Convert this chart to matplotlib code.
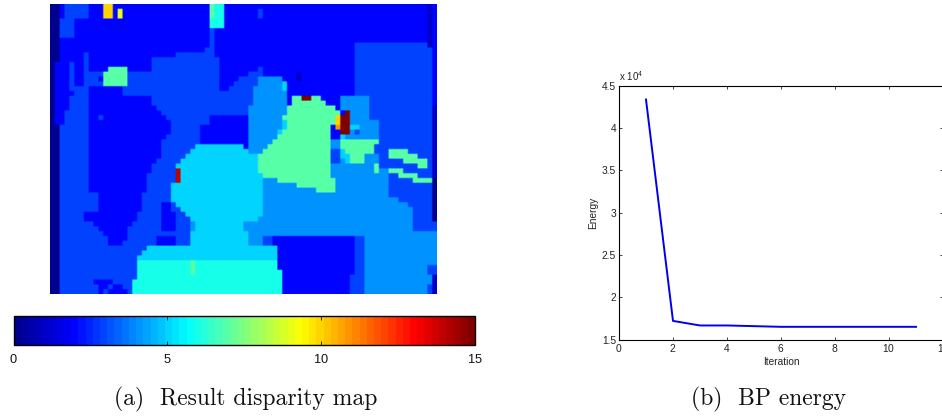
import numpy as np
import matplotlib
matplotlib.use('Agg')
import matplotlib.pyplot as plt
from matplotlib.cm import ScalarMappable
from matplotlib.colors import LinearSegmentedColormap, Normalize

plt.rcParams['font.family'] = ['Liberation Sans', 'DejaVu Sans']
plt.rcParams['mathtext.default'] = 'regular'
plt.rcParams['axes.formatter.use_mathtext'] = True

# disparity map, one line per row: "start column:disparity (hex)"
disparity_runs = [
    "0:0 2:2 3:3 8:2 11:a 13:2 33:7 34:6 36:2 78:1 79:2",
    "0:0 2:2 3:3 8:2 11:a 13:2 14:9 15:2 33:7 34:6 36:2 43:3 44:2 78:1 79:2",
    "0:0 2:2 3:3 8:2 11:a 13:2 14:9 15:2 33:7 34:6 36:2 43:3 44:2 78:1 79:2",
    "0:0 2:3 5:2 33:6 36:2 78:1 79:2",
    "0:0 2:3 5:2 33:6 36:2 78:1 79:2",
    "0:0 2:3 5:2 33:3 34:2 78:1 79:2",
    "0:0 2:3 5:2 33:3 34:2 78:1 79:2",
    "0:0 2:2 33:3 34:2 78:1 79:2",
    "0:0 2:2 33:3 34:2 63:3 78:1 79:2",
    "0:0 2:2 32:3 34:2 63:3 79:2",
    "0:0 2:2 7:3 8:2 26:3 34:2 63:3 79:2",
    "0:0 2:2 7:3 8:2 21:3 35:2 63:3 79:2",
    "0:0 1:2 4:3 5:2 7:3 8:2 21:3 35:2 63:3 79:2",
    "0:0 1:2 4:3 5:2 7:3 8:2 12:7 16:2 21:3 35:2 43:3 44:2 63:3 79:2",
    "0:0 1:2 4:3 5:2 7:3 11:7 16:3 35:2 41:3 44:2 51:1 52:2 63:3 79:2",
    "0:0 1:2 4:3 5:2 7:3 10:2 11:7 16:3 35:2 39:3 43:4 48:2 51:1 52:2 63:3 79:2",
    "0:0 1:2 4:3 5:2 7:3 11:7 16:3 35:2 38:3 43:4 48:5 49:2 63:3 79:2",
    "0:0 1:2 4:3 8:2 15:3 35:2 37:3 42:4 48:5 49:2 63:3 79:2",
    "0:0 1:2 5:3 8:2 15:3 42:4 49:2 63:3 79:2",
    "0:0 1:2 4:3 8:2 21:3 42:4 49:2 50:7 52:f 54:7 56:2 60:4 66:3 79:2",
    "0:0 1:2 4:3 8:2 21:3 42:4 49:2 50:7 57:2 60:4 66:3 79:2",
    "0:0 1:2 4:3 8:2 22:3 41:4 49:7 59:2 60:4 66:3 79:1",
    "0:0 1:2 3:3 8:2 23:3 41:4 49:7 60:2 61:f 62:4 66:3 79:1",
    "0:0 1:2 3:3 8:2 10:3 11:2 24:3 33:2 41:4 48:7 59:a 60:f 62:4 66:3 79:1",
    "0:0 1:2 3:3 8:2 25:3 33:2 41:4 48:5 49:7 59:a 60:f 62:4 68:3 79:1",
    "0:0 2:3 8:2 25:3 31:2 41:4 48:5 49:7 58:2 59:b 60:f 62:5 64:4 68:3 79:1",
    "0:0 2:3 8:2 25:3 31:2 41:4 47:5 48:7 58:2 60:f 62:4 63:3 64:4 68:3 79:1",
    "0:0 2:3 8:2 24:3 31:2 41:4 47:7 58:2 60:5 61:4 68:3 79:1",
    "0:0 2:3 8:2 23:3 31:2 41:4 46:7 58:4 60:7 68:3 79:1",
    "0:0 2:3 8:2 23:3 30:5 40:2 41:4 45:7 58:4 60:7 67:3 79:1",
    "0:0 2:3 8:2 23:3 29:5 41:4 44:7 58:3 60:5 61:7 67:3 70:7 74:3 79:1",
    "0:0 2:3 8:2 23:3 28:5 43:7 58:3 60:5 62:7 65:4 68:3 70:7 76:3 79:1",
    "0:0 2:3 8:2 22:3 27:5 43:7 58:3 60:4 61:5 62:7 65:4 68:3 73:7 78:3 79:1",
    "0:0 2:3 8:2 21:3 26:5 43:7 58:4 67:7 68:3 76:7 78:3 79:1",
    "0:0 2:3 8:2 21:3 26:e 27:5 43:7 58:4 67:7 68:4 70:7 73:3 79:1",
    "0:0 2:3 8:2 20:3 26:e 27:5 44:7 58:4 70:3 72:7 76:3 79:1",
    "0:0 2:3 8:2 20:3 26:e 27:5 44:4 47:7 59:4 70:3 75:7 79:0",
    "0:0 2:3 8:2 20:3 25:5 44:4 51:7 59:4 70:3 79:0",
    "0:0 2:3 8:2 20:3 25:5 44:4 55:7 59:4 70:3 79:0",
    "0:0 2:3 10:2 19:3 25:5 44:4 70:3 79:0",
    "0:0 2:3 10:2 19:3 25:5 44:4 72:3 79:0",
    "0:0 2:3 10:2 19:3 23:2 25:3 26:5 44:4 74:3 79:0",
    "0:0 2:3 10:2 19:3 23:2 25:3 27:5 44:4 75:3 79:0",
    "0:0 2:3 7:2 18:3 23:2 26:3 28:5 44:4 75:3 79:0",
    "0:0 2:3 7:2 18:3 23:2 26:3 29:5 43:4 75:3 79:0",
    "0:0 2:3 9:2 17:3 23:2 26:3 29:4 30:5 40:4 75:3",
    "0:0 2:3 10:2 16:3 23:2 26:3 29:4 30:5 40:4 75:3",
    "0:0 2:3 11:2 16:3 29:5 41:4",
    "0:0 2:3 12:2 16:3 22:2 26:3 29:5 41:4 44:3 46:2 63:3 65:4",
    "0:0 2:3 12:2 15:3 22:2 26:3 29:5 41:4 44:3 46:2 63:3 65:4",
    "0:0 2:3 20:5 47:2 63:3 65:4",
    "0:0 2:3 19:5 47:2 63:3 65:4",
    "0:0 2:3 18:5 47:2 63:3 65:4",
    "0:0 2:3 18:6 29:7 30:6 47:2 63:3 65:4",
    "0:0 2:3 18:6 29:7 30:6 47:2 63:3 65:4 78:3",
    "0:0 2:3 18:6 29:7 30:6 48:2 63:3 65:4 78:3",
    "0:0 2:3 18:6 48:2 62:3 65:4 79:1",
    "0:0 2:3 9:2 13:3 17:6 48:2 62:3 65:4 79:1",
    "0:0 2:3 10:2 12:3 13:2 15:3 17:6 48:2 62:3 65:4 78:3 79:1",
    "0:0 2:3 10:2 11:3 12:2 16:3 17:6 48:2 62:3 65:4 78:3 79:1",
]
n_cols = 80

colorbar_ticks = [0, 5, 10, 15]

# matlab style jet, not the same as the matplotlib one
jet_stops = [0, 0.125, 0.375, 0.625, 0.875, 1]
jet_colors = [(0, 0, 0.5625), (0, 0, 1), (0, 1, 1), (1, 1, 0), (1, 0, 0), (0.5, 0, 0)]

# BP energy curve
iterations = [1, 2, 3, 4, 5, 6, 7, 8, 9, 10, 11]
energy = [43400, 17200, 16660, 16660, 16580, 16500, 16500, 16500, 16500, 16500, 16500]
energy_xticks = [0, 2, 4, 6, 8, 10, 12]
energy_yticks = [15000, 20000, 25000, 30000, 35000, 40000, 45000]
energy_yticklabels = ['1.5', '2', '2.5', '3', '3.5', '4', '4.5']

W, H = 942, 416


def px_axes(fig, left, top, right, bottom):
    return fig.add_axes([left / W, 1 - bottom / H, (right - left) / W, (bottom - top) / H])


def decode_runs(rows, cols):
    grid = np.zeros((len(rows), cols))
    for r, row in enumerate(rows):
        for run in row.split():
            start, value = run.split(':')
            grid[r, int(start):] = int(value, 16)
    return grid


fig = plt.figure(figsize=(W / 100, H / 100), dpi=100)

cmap = LinearSegmentedColormap.from_list('matlab_jet', list(zip(jet_stops, jet_colors)), N=64)
norm = Normalize(0, 15)

# (a) disparity map
ax_map = px_axes(fig, 50, 4, 437, 294)
disparity = decode_runs(disparity_runs, n_cols)
# blur in rgb so the soft edges don't pass through other disparities
rgb = cmap(norm(disparity))[:, :, :3]
rgb = np.repeat(np.repeat(rgb, 3, axis=0), 3, axis=1)
ax_map.imshow(rgb, aspect='auto', interpolation='bilinear')
ax_map.axis('off')

# colorbar
ax_cb = px_axes(fig, 13.5, 316, 475, 345)
cb = fig.colorbar(ScalarMappable(norm=norm, cmap=cmap), cax=ax_cb, orientation='horizontal',
                  ticks=colorbar_ticks)
cb.outline.set_linewidth(1.0)
cb.ax.tick_params(direction='in', top=True, bottom=True, length=3, width=0.6,
                  labelsize=9.2, pad=5.5, colors='#111111')

# (b) energy plot
ax_en = px_axes(fig, 619, 86, 943, 339.5)
ax_en.plot(iterations, energy, color='#0000ee', lw=1.4)
ax_en.set_xlim(0, 12)
ax_en.set_ylim(15000, 45000)
ax_en.set_xticks(energy_xticks)
ax_en.set_yticks(energy_yticks)
ax_en.set_yticklabels(energy_yticklabels)
ax_en.tick_params(direction='in', top=True, right=True, length=2.5, width=0.6,
                  labelsize=7.4, pad=2, colors='#222222')
for s in ax_en.spines.values():
    s.set_linewidth(0.8)
ax_en.set_xlabel('Iteration', fontsize=7.3, color='#222222', labelpad=2)
ax_en.set_ylabel('Energy', fontsize=7.3, color='#222222', labelpad=3)
ax_en.text(0, 1.012, 'x 10$^{4}$', transform=ax_en.transAxes, fontsize=7,
           color='#222222', ha='left', va='bottom')

# captions
cap = {'family': 'cmr10', 'fontsize': 17, 'color': '#111111', 'ha': 'center', 'va': 'center'}
fig.text(245.5 / W, 1 - 399.5 / H, '(a)  Result disparity map', **cap)
fig.text(768.5 / W, 1 - 399.5 / H, '(b)  BP energy', **cap)

fig.savefig('out.png', dpi=100)
